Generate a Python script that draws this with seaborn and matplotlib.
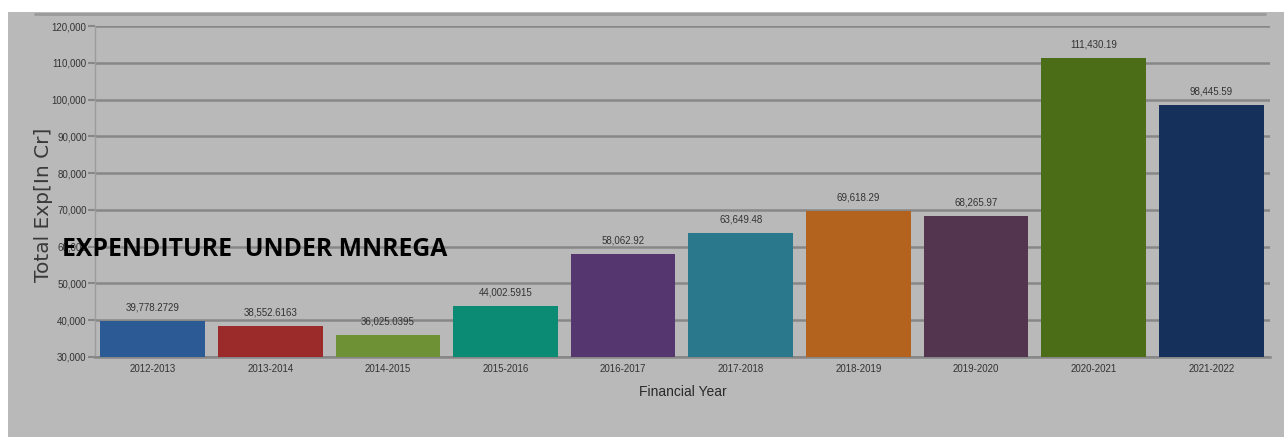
import matplotlib
matplotlib.use("Agg")
import matplotlib.pyplot as plt
from matplotlib.patches import Rectangle
from matplotlib.lines import Line2D
import seaborn as sns
import pandas as pd

years = ["2012-2013", "2013-2014", "2014-2015", "2015-2016", "2016-2017",
         "2017-2018", "2018-2019", "2019-2020", "2020-2021", "2021-2022"]
expenditure = [39778.2729, 38552.6163, 36025.0395, 44002.5915, 58062.92,
               63649.48, 69618.29, 68265.97, 111430.19, 98445.59]
value_labels = ["39,778.2729", "38,552.6163", "36,025.0395", "44,002.5915", "58,062.92",
                "63,649.48", "69,618.29", "68,265.97", "111,430.19", "98,445.59"]
bar_colors = ["#2b5a94", "#9b2b2b", "#6d9134", "#0b8a74", "#56366f",
              "#2a788b", "#b4631f", "#54354f", "#4b6d17", "#15305a"]
y_ticks = list(range(30000, 120001, 10000))

sns.set_theme(style="white")
narrow = ["Liberation Sans Narrow", "Liberation Sans", "DejaVu Sans"]
plt.rcParams["font.family"] = ["Open Sans", "DejaVu Sans"]

BG = "#b9b9b9"
GRID = "#878787"
TEXT = "#333333"

fig = plt.figure(figsize=(12.84, 4.37), dpi=100)
fig.patch.set_facecolor("white")
# grey panel behind everything, leaving a thin white margin top and left
fig.patches.append(Rectangle((8 / 1284, 0), 1, (437 - 12) / 437,
                             transform=fig.transFigure, facecolor=BG,
                             edgecolor="none", zorder=-10))
fig.add_artist(Line2D([35 / 1284, 1265 / 1284], [1 - 13.5 / 437] * 2,
                      transform=fig.transFigure, color="#9a9a9a", lw=2, zorder=-5))

ax = fig.add_axes([95 / 1284, 1 - 357 / 437, (1270 - 95) / 1284, (357 - 26) / 437])
ax.set_zorder(1)
ax.set_facecolor(BG)

df = pd.DataFrame({"year": years, "exp": expenditure})
sns.barplot(data=df, x="year", y="exp", hue="year", palette=bar_colors,
            legend=False, width=0.89, saturation=1, ax=ax, zorder=3,
            edgecolor="none", linewidth=0)

ax.set_ylim(30000, 120000)
ax.set_xlim(-0.49, 9.5)
ax.set_yticks(y_ticks)
ax.set_yticklabels([f"{v:,}" for v in y_ticks], family=narrow, fontsize=7, color=TEXT)
ax.set_xticks(range(len(years)))
ax.set_xticklabels(years, family=narrow, fontsize=7, color=TEXT)
ax.yaxis.grid(True, color=GRID, lw=1.8, zorder=1)
ax.set_axisbelow(True)
ax.tick_params(axis="y", length=5, width=1.5, color=GRID, pad=1, left=True)
ax.tick_params(axis="x", length=0, pad=5)

for s in ["top", "right"]:
    ax.spines[s].set_visible(False)
ax.spines["left"].set_color("#9c9c9c")
ax.spines["left"].set_linewidth(1)
ax.spines["bottom"].set_color(GRID)
ax.spines["bottom"].set_linewidth(1.8)

for i, (v, lab) in enumerate(zip(expenditure, value_labels)):
    ax.annotate(lab, (i, v), xytext=(0, 6), textcoords="offset points",
                ha="center", va="bottom", family=narrow, fontsize=7, color=TEXT)

ax.set_xlabel("Financial Year", family=narrow, fontsize=10, color="#2a2a2a", labelpad=8)
ax.set_ylabel("Total Exp[In Cr]", family=["DejaVu Sans"], fontsize=14.5, color="#3a3a3a")
ax.yaxis.set_label_coords(-0.0355, 0.46)

fig.text(62 / 1284, 1 - 249 / 437, "EXPENDITURE  UNDER MNREGA", fontsize=17.8,
         fontweight="bold", color="black", ha="left", va="center", zorder=5)

fig.savefig("out.png", dpi=100, facecolor=fig.get_facecolor())
